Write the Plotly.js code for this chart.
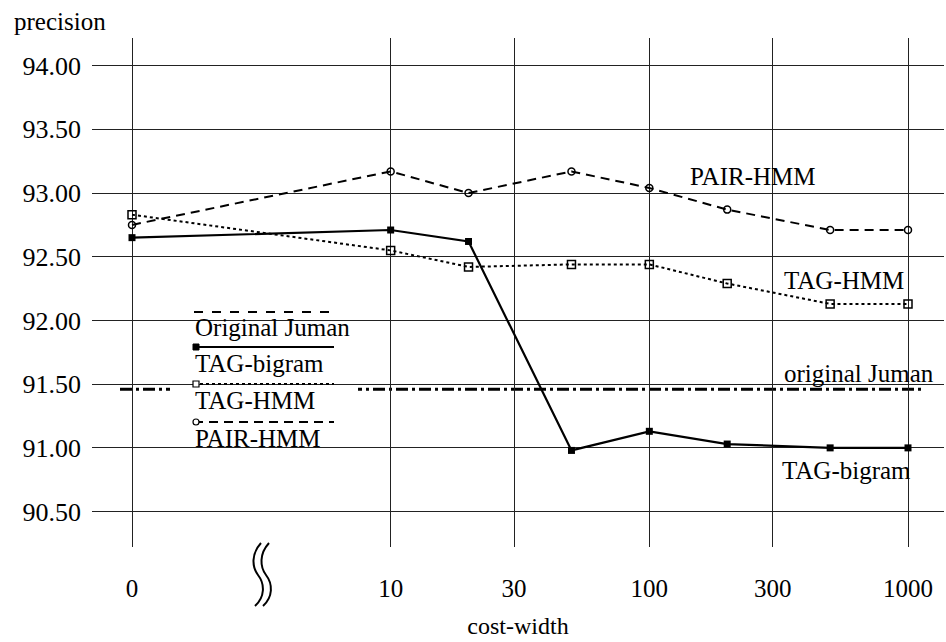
<!DOCTYPE html>
<html>
<head>
<meta charset="utf-8">
<script src="https://cdn.plot.ly/plotly-3.0.1.min.js"></script>
<style>html,body{margin:0;padding:0;background:#fff;}#chart{width:946px;height:642px;}</style>
</head>
<body>
<div id="chart"></div>
<script>
// ---- data ----
const costWidth = [0, 10, 20, 50, 100, 200, 500, 1000];
const tagBigram = [92.65, 92.71, 92.62, 90.98, 91.13, 91.03, 91.00, 91.00];
const tagHMM    = [92.83, 92.55, 92.42, 92.44, 92.44, 92.29, 92.13, 92.13];
const pairHMM   = [92.75, 93.17, 93.00, 93.17, 93.04, 92.87, 92.71, 92.71];
const originalJuman = 91.46;
const xTickValues = [0, 10, 30, 100, 300, 1000];
const yTickValues = [90.5, 91.0, 91.5, 92.0, 92.5, 93.0, 93.5, 94.0];
const legendNames = ["Original Juman", "TAG-bigram", "TAG-HMM", "PAIR-HMM"];

// axis break: cost-width 0 is drawn one decade left of 10 on the log axis
const zeroPos = 1;
const toAxis = v => (v === 0 ? zeroPos : v);
const xs = costWidth.map(toAxis);

// plot geometry (pixels)
const W = 946, H = 642, L = 92, R = 2, T = 38, B = 95;
const PW = W - L - R, PH = H - T - B;
const px = x => (x - L) / PW;           // pixel -> paper x
const py = y => (H - B - y) / PH;       // pixel -> paper y

const FONT = "'Liberation Serif', 'Times New Roman', serif";

const traces = [
  {x: xs, y: tagBigram, mode: "lines+markers", name: "TAG-bigram",
   line: {color: "#000", width: 2.2},
   marker: {symbol: "square", size: 7, color: "#000"}},
  {x: xs, y: tagHMM, mode: "lines+markers", name: "TAG-HMM",
   line: {color: "#000", width: 2, dash: "dot"},
   marker: {symbol: "square-open", size: 8, color: "#000", line: {width: 1.5}}},
  {x: xs, y: pairHMM, mode: "lines+markers", name: "PAIR-HMM",
   line: {color: "#000", width: 2, dash: "9px,6px"},
   marker: {symbol: "circle-open", size: 7, color: "#000", line: {width: 1.5}}}
];

// legend box (custom: line sample above text)
const box = {x0: 170, x1: 358, y0: 300, y1: 470};
const legLineY = [312, 347, 384, 422];
const legTextY = [327, 363, 400, 438];
const legDash = ["dash", "solid", "dot", "9px,6px"];
const shapes = [
  {type: "line", layer: "between", xref: "paper", yref: "y",
   x0: px(120), x1: px(924), y0: originalJuman, y1: originalJuman,
   line: {color: "#000", width: 3, dash: "12px,4px,3px,4px"}},
  {type: "rect", layer: "between", xref: "paper", yref: "paper",
   x0: px(box.x0), x1: px(box.x1), y0: py(box.y1), y1: py(box.y0),
   fillcolor: "#fff", line: {width: 0}}
];
legendNames.forEach((n, i) => {
  shapes.push({type: "line", layer: "above", xref: "paper", yref: "paper",
    x0: px(194), x1: px(334), y0: py(legLineY[i]), y1: py(legLineY[i]),
    line: {color: "#000", width: 2, dash: legDash[i]}});
});
// legend marker glyphs
shapes.push({type: "rect", layer: "above", xref: "paper", yref: "paper",
  x0: px(193), x1: px(199), y0: py(350), y1: py(344), fillcolor: "#000", line: {color: "#000", width: 1}});
shapes.push({type: "rect", layer: "above", xref: "paper", yref: "paper",
  x0: px(193), x1: px(199), y0: py(387), y1: py(381), fillcolor: "#fff", line: {color: "#000", width: 1.2}});
shapes.push({type: "circle", layer: "above", xref: "paper", yref: "paper",
  x0: px(193), x1: px(199), y0: py(425), y1: py(419), fillcolor: "#fff", line: {color: "#000", width: 1.2}});
// axis-break symbol
function brk(dx) {
  const p = (x, y) => px(x + dx) + "," + py(y);
  return "M" + p(261, 543) + " C" + p(251, 554) + " " + p(252, 567) + " " + p(258, 575) +
         " C" + p(265, 584) + " " + p(265, 597) + " " + p(255, 606);
}
[0, 8].forEach(d => shapes.push({type: "path", layer: "above", xref: "paper", yref: "paper",
  path: brk(d), line: {color: "#000", width: 2}}));

const annotations = [
  {text: "precision", x: px(12), y: py(22), xanchor: "left", yanchor: "middle"},
  {text: "PAIR-HMM", x: px(753), y: py(176), xanchor: "center", yanchor: "middle"},
  {text: "TAG-HMM", x: px(844), y: py(280), xanchor: "center", yanchor: "middle"},
  {text: "original Juman", x: px(859), y: py(373), xanchor: "center", yanchor: "middle"},
  {text: "TAG-bigram", x: px(846), y: py(470), xanchor: "center", yanchor: "middle"}
];
legendNames.forEach((n, i) => annotations.push({text: n, x: px(193), y: py(legTextY[i]),
  xanchor: "left", yanchor: "middle"}));
annotations.forEach(a => { a.xref = "paper"; a.yref = "paper"; a.showarrow = false;
  a.font = {family: FONT, size: 25, color: "#000"}; });

const layout = {
  width: W, height: H,
  margin: {l: L, r: R, t: T, b: B},
  paper_bgcolor: "#fff", plot_bgcolor: "#fff",
  showlegend: false,
  font: {family: FONT, size: 25, color: "#000"},
  xaxis: {
    type: "log",
    range: [Math.log10(zeroPos) - 40 / 258.7, 3 + 36 / 258.7],
    tickmode: "array",
    tickvals: xTickValues.map(toAxis),
    ticktext: xTickValues.map(String),
    ticks: "", ticklabelstandoff: 24,
    showgrid: true, gridcolor: "#222", gridwidth: 1,
    zeroline: false, showline: false,
    tickfont: {family: FONT, size: 25, color: "#000"},
    title: {text: "cost-width", font: {family: FONT, size: 24, color: "#000"}, standoff: 16}
  },
  yaxis: {
    range: [90.222, 94.217],
    tickmode: "array",
    tickvals: yTickValues,
    ticktext: yTickValues.map(v => v.toFixed(2)),
    ticks: "", ticklabelstandoff: 10,
    showgrid: true, gridcolor: "#222", gridwidth: 1,
    zeroline: false, showline: false,
    tickfont: {family: FONT, size: 26, color: "#000"}
  },
  shapes: shapes,
  annotations: annotations
};

Plotly.newPlot("chart", traces, layout, {staticPlot: true, displayModeBar: false});
</script>
</body>
</html>
